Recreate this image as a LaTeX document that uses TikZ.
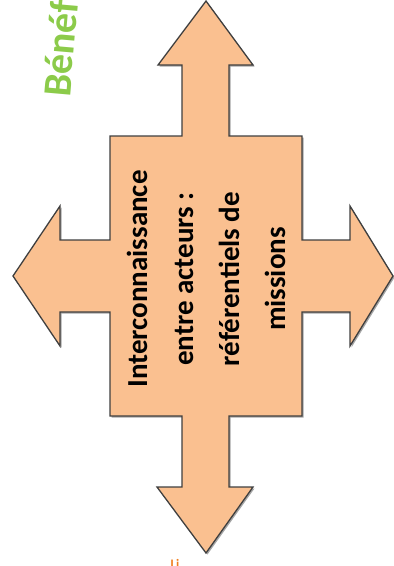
\documentclass[tikz,border=0pt]{standalone}
\usepackage{fontspec}
\setmainfont{Carlito}
\definecolor{peach}{HTML}{FAC090}
\definecolor{edgegray}{HTML}{3F3F3F}
\definecolor{leafgreen}{HTML}{8CCB4A}
\definecolor{titleorange}{HTML}{F07F20}
\tikzset{
  quadarrow/.style={fill=peach, draw=edgegray, line width=1.3pt, line join=miter},
  arrowshadow/.style={fill=black!35, draw=none},
  bodytext/.style={rotate=90, align=center, font=\bfseries\fontsize{29}{46}\selectfont, text=black, inner sep=0pt},
  greentitle/.style={rotate=85, anchor=base west, font=\bfseries\fontsize{40}{44}\selectfont, text=leafgreen, inner sep=0pt},
  orangetitle/.style={anchor=north, font=\bfseries\fontsize{13}{15}\selectfont, text=titleorange, inner sep=0pt}
}
\begin{document}
\begin{tikzpicture}[x=1pt,y=-1pt]
\useasboundingbox (0,0) rectangle (394,566);
\clip (0,0) rectangle (394,566);
\def\shape{(206,1) -- (253,65) -- (229,65) -- (229,136) -- (302,136) -- (302,240) -- (350,240) -- (350,206) -- (393,276) -- (350,346) -- (350,312) -- (302,312) -- (302,416) -- (229,416) -- (229,487) -- (253,487) -- (206,553) -- (157,487) -- (182,487) -- (182,416) -- (110,416) -- (110,312) -- (60,312) -- (60,346) -- (13,276) -- (60,206) -- (60,240) -- (110,240) -- (110,136) -- (182,136) -- (182,65) -- (158,65) -- cycle}
\begin{scope}[shift={(1.5,1.5)}]
\path[arrowshadow] \shape;
\end{scope}
\path[quadarrow] \shape;
\node[bodytext] (body) at (206,279) {Interconnaissance\\entre acteurs :\\référentiels de\\missions};
\node[greentitle] (green) at (70,98) {Bénéfices};
\node[orangetitle] (orange) at (175,559) {Li};
\end{tikzpicture}
\end{document}
